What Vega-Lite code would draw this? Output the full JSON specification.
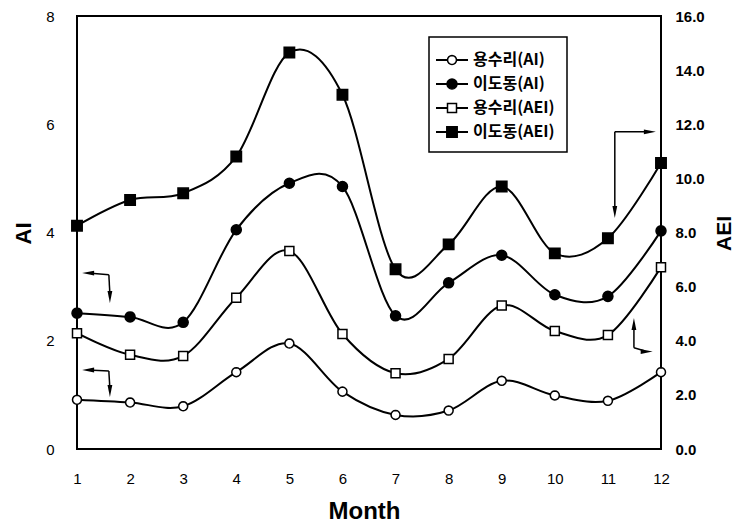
{
  "$schema": "https://vega.github.io/schema/vega-lite/v6.json",
  "width": 584,
  "height": 433,
  "autosize": {"type": "none"},
  "padding": {"left": 77, "top": 16, "right": 75, "bottom": 75},
  "background": "white",
  "datasets": {
    "series": [
      {"month": 1, "series": "용수리(AI)", "index": "AI", "value": 0.91},
      {"month": 2, "series": "용수리(AI)", "index": "AI", "value": 0.86},
      {"month": 3, "series": "용수리(AI)", "index": "AI", "value": 0.79},
      {"month": 4, "series": "용수리(AI)", "index": "AI", "value": 1.42},
      {"month": 5, "series": "용수리(AI)", "index": "AI", "value": 1.95},
      {"month": 6, "series": "용수리(AI)", "index": "AI", "value": 1.06},
      {"month": 7, "series": "용수리(AI)", "index": "AI", "value": 0.63},
      {"month": 8, "series": "용수리(AI)", "index": "AI", "value": 0.71},
      {"month": 9, "series": "용수리(AI)", "index": "AI", "value": 1.26},
      {"month": 10, "series": "용수리(AI)", "index": "AI", "value": 0.99},
      {"month": 11, "series": "용수리(AI)", "index": "AI", "value": 0.89},
      {"month": 12, "series": "용수리(AI)", "index": "AI", "value": 1.42},
      {"month": 1, "series": "이도동(AI)", "index": "AI", "value": 2.51},
      {"month": 2, "series": "이도동(AI)", "index": "AI", "value": 2.44},
      {"month": 3, "series": "이도동(AI)", "index": "AI", "value": 2.34},
      {"month": 4, "series": "이도동(AI)", "index": "AI", "value": 4.05},
      {"month": 5, "series": "이도동(AI)", "index": "AI", "value": 4.91},
      {"month": 6, "series": "이도동(AI)", "index": "AI", "value": 4.85},
      {"month": 7, "series": "이도동(AI)", "index": "AI", "value": 2.46},
      {"month": 8, "series": "이도동(AI)", "index": "AI", "value": 3.07},
      {"month": 9, "series": "이도동(AI)", "index": "AI", "value": 3.58},
      {"month": 10, "series": "이도동(AI)", "index": "AI", "value": 2.85},
      {"month": 11, "series": "이도동(AI)", "index": "AI", "value": 2.82},
      {"month": 12, "series": "이도동(AI)", "index": "AI", "value": 4.03},
      {"month": 1, "series": "용수리(AEI)", "index": "AEI", "value": 4.28},
      {"month": 2, "series": "용수리(AEI)", "index": "AEI", "value": 3.48},
      {"month": 3, "series": "용수리(AEI)", "index": "AEI", "value": 3.44},
      {"month": 4, "series": "용수리(AEI)", "index": "AEI", "value": 5.59},
      {"month": 5, "series": "용수리(AEI)", "index": "AEI", "value": 7.32},
      {"month": 6, "series": "용수리(AEI)", "index": "AEI", "value": 4.25},
      {"month": 7, "series": "용수리(AEI)", "index": "AEI", "value": 2.80},
      {"month": 8, "series": "용수리(AEI)", "index": "AEI", "value": 3.33},
      {"month": 9, "series": "용수리(AEI)", "index": "AEI", "value": 5.30},
      {"month": 10, "series": "용수리(AEI)", "index": "AEI", "value": 4.36},
      {"month": 11, "series": "용수리(AEI)", "index": "AEI", "value": 4.21},
      {"month": 12, "series": "용수리(AEI)", "index": "AEI", "value": 6.72},
      {"month": 1, "series": "이도동(AEI)", "index": "AEI", "value": 8.25},
      {"month": 2, "series": "이도동(AEI)", "index": "AEI", "value": 9.20},
      {"month": 3, "series": "이도동(AEI)", "index": "AEI", "value": 9.45},
      {"month": 4, "series": "이도동(AEI)", "index": "AEI", "value": 10.81},
      {"month": 5, "series": "이도동(AEI)", "index": "AEI", "value": 14.65},
      {"month": 6, "series": "이도동(AEI)", "index": "AEI", "value": 13.09},
      {"month": 7, "series": "이도동(AEI)", "index": "AEI", "value": 6.64},
      {"month": 8, "series": "이도동(AEI)", "index": "AEI", "value": 7.56},
      {"month": 9, "series": "이도동(AEI)", "index": "AEI", "value": 9.70},
      {"month": 10, "series": "이도동(AEI)", "index": "AEI", "value": 7.23},
      {"month": 11, "series": "이도동(AEI)", "index": "AEI", "value": 7.79},
      {"month": 12, "series": "이도동(AEI)", "index": "AEI", "value": 10.57}
    ],
    "arrows": [
      {"x": 1.21, "y": 3.25, "x2": 1.60, "y2": 3.22},
      {"x": 1.60, "y": 3.22, "x2": 1.62, "y2": 2.85},
      {"x": 1.21, "y": 1.46, "x2": 1.60, "y2": 1.44},
      {"x": 1.60, "y": 1.44, "x2": 1.62, "y2": 1.10},
      {"x": 11.13, "y": 5.86, "x2": 11.76, "y2": 5.86},
      {"x": 11.13, "y": 5.86, "x2": 11.13, "y2": 4.42},
      {"x": 11.49, "y": 1.87, "x2": 11.49, "y2": 2.28},
      {"x": 11.49, "y": 1.87, "x2": 11.70, "y2": 1.81}
    ],
    "heads": [
      {"x": 1.21, "y": 3.25, "dir": "left"},
      {"x": 1.62, "y": 2.81, "dir": "down"},
      {"x": 1.21, "y": 1.46, "dir": "left"},
      {"x": 1.62, "y": 1.07, "dir": "down"},
      {"x": 11.79, "y": 5.86, "dir": "right"},
      {"x": 11.13, "y": 4.38, "dir": "down"},
      {"x": 11.49, "y": 2.31, "dir": "up"},
      {"x": 11.73, "y": 1.80, "dir": "right"}
    ]
  },
  "config": {
    "view": {"stroke": "black", "strokeWidth": 2},
    "axis": {
      "grid": false,
      "domain": false,
      "ticks": false,
      "labelFont": "Liberation Sans",
      "titleFont": "Liberation Sans",
      "labelColor": "black",
      "titleColor": "black",
      "labelFlush": false,
      "labelOverlap": false,
      "labelFontSize": 15
    },
    "legend": {
      "orient": "none",
      "legendX": 352,
      "legendY": 21,
      "padding": 12,
      "strokeWidth": 1.5,
      "symbolSize": 400,
      "rowPadding": 5,
      "labelOffset": 10,
      "labelFont": "Noto Sans CJK KR",
      "labelFontWeight": "bold",
      "labelFontSize": 16,
      "labelColor": "black"
    }
  },
  "layer": [
    {
      "layer": [
        {
          "data": {"name": "series"},
          "transform": [{"filter": "datum.index === 'AI'"}],
          "mark": {"type": "line", "interpolate": "cardinal", "strokeWidth": 2},
          "encoding": {
            "x": {
              "field": "month", "type": "quantitative",
              "scale": {"domain": [1, 12], "nice": false, "zero": false},
              "axis": {
                "values": [1, 2, 3, 4, 5, 6, 7, 8, 9, 10, 11, 12],
                "format": "d",
                "title": "Month",
                "labelPadding": 22,
                "titleFontSize": 24,
                "titleFontWeight": "bold",
                "titleBaseline": "alphabetic",
                "titleY": 69,
                "titleX": 287
              }
            },
            "y": {
              "field": "value", "type": "quantitative",
              "scale": {"domain": [0, 8], "nice": false},
              "axis": {
                "orient": "left",
                "values": [0, 2, 4, 6, 8],
                "format": "d",
                "title": "AI",
                "labelPadding": 23,
                "titleFontSize": 22,
                "titleFontWeight": "bold",
                "titleAngle": 270,
                "titleBaseline": "middle",
                "titleX": -54,
                "titleY": 217
              }
            },
            "stroke": {
              "field": "series", "type": "nominal",
              "scale": {"domain": ["용수리(AI)", "이도동(AI)", "용수리(AEI)", "이도동(AEI)", " "], "range": ["black", "black", "black", "black", "black"]},
              "legend": {
                "title": null,
                "values": ["용수리(AI)", "이도동(AI)", "용수리(AEI)", "이도동(AEI)"],
                "symbolType": "M-1.6,0H1.6",
                "symbolStrokeWidth": 2,
                "strokeColor": "black"
              }
            }
          }
        },
        {
          "data": {"name": "series"},
          "transform": [{"filter": "datum.index === 'AI'"}],
          "mark": {"type": "point", "filled": true, "stroke": "black", "strokeWidth": 1.5, "size": 400, "opacity": 1},
          "encoding": {
            "x": {"field": "month", "type": "quantitative"},
            "y": {"field": "value", "type": "quantitative"},
            "shape": {
              "field": "series", "type": "nominal",
              "scale": {
                "domain": ["용수리(AI)", "이도동(AI)", "용수리(AEI)", "이도동(AEI)"],
                "range": [
                  "M0.45,0L0.416,0.172L0.318,0.318L0.172,0.416L0,0.45L-0.172,0.416L-0.318,0.318L-0.416,0.172L-0.45,0L-0.416,-0.172L-0.318,-0.318L-0.172,-0.416L0,-0.45L0.172,-0.416L0.318,-0.318L0.416,-0.172Z",
                  "M0.5,0L0.462,0.191L0.354,0.354L0.191,0.462L0,0.5L-0.191,0.462L-0.354,0.354L-0.462,0.191L-0.5,0L-0.462,-0.191L-0.354,-0.354L-0.191,-0.462L0,-0.5L0.191,-0.462L0.354,-0.354L0.462,-0.191Z",
                  "M-0.45,-0.45H0.45V0.45H-0.45Z",
                  "M-0.52,-0.52H0.52V0.52H-0.52Z"
                ]
              },
              "legend": {"title": null, "labelOpacity": 0}
            },
            "fill": {
              "field": "series", "type": "nominal",
              "scale": {"domain": ["용수리(AI)", "이도동(AI)", "용수리(AEI)", "이도동(AEI)"], "range": ["white", "black", "white", "black"]},
              "legend": null
            }
          }
        },
        {
          "data": {"name": "arrows"},
          "mark": {"type": "rule", "color": "black", "strokeWidth": 1.5},
          "encoding": {
            "x": {"field": "x", "type": "quantitative"},
            "y": {"field": "y", "type": "quantitative"},
            "x2": {"field": "x2"},
            "y2": {"field": "y2"}
          }
        },
        {
          "data": {"name": "heads"},
          "transform": [{"filter": "datum.dir === 'left'"}],
          "mark": {"type": "point", "filled": true, "color": "black", "opacity": 1, "size": 144, "shape": "M-1,0L1,-0.4L1,0.4Z"},
          "encoding": {"x": {"field": "x", "type": "quantitative"}, "y": {"field": "y", "type": "quantitative"}}
        },
        {
          "data": {"name": "heads"},
          "transform": [{"filter": "datum.dir === 'right'"}],
          "mark": {"type": "point", "filled": true, "color": "black", "opacity": 1, "size": 144, "shape": "M1,0L-1,-0.4L-1,0.4Z"},
          "encoding": {"x": {"field": "x", "type": "quantitative"}, "y": {"field": "y", "type": "quantitative"}}
        },
        {
          "data": {"name": "heads"},
          "transform": [{"filter": "datum.dir === 'down'"}],
          "mark": {"type": "point", "filled": true, "color": "black", "opacity": 1, "size": 144, "shape": "M0,1L-0.4,-1L0.4,-1Z"},
          "encoding": {"x": {"field": "x", "type": "quantitative"}, "y": {"field": "y", "type": "quantitative"}}
        },
        {
          "data": {"name": "heads"},
          "transform": [{"filter": "datum.dir === 'up'"}],
          "mark": {"type": "point", "filled": true, "color": "black", "opacity": 1, "size": 144, "shape": "M0,-1L-0.4,1L0.4,1Z"},
          "encoding": {"x": {"field": "x", "type": "quantitative"}, "y": {"field": "y", "type": "quantitative"}}
        }
      ]
    },
    {
      "layer": [
        {
          "data": {"name": "series"},
          "transform": [{"filter": "datum.index === 'AEI'"}],
          "mark": {"type": "line", "interpolate": "cardinal", "strokeWidth": 2},
          "encoding": {
            "x": {"field": "month", "type": "quantitative"},
            "y": {
              "field": "value", "type": "quantitative",
              "scale": {"domain": [0, 16], "nice": false},
              "axis": {
                "orient": "right",
                "values": [0, 2, 4, 6, 8, 10, 12, 14, 16],
                "format": ".1f",
                "title": "AEI",
                "labelPadding": 14,
                "labelFontWeight": "bold",
                "titleFontSize": 21,
                "titleFontWeight": "bold",
                "titleAngle": 270,
                "titleBaseline": "middle",
                "titleX": 63,
                "titleY": 217
              }
            },
            "stroke": {"field": "series", "type": "nominal"}
          }
        },
        {
          "data": {"name": "series"},
          "transform": [{"filter": "datum.index === 'AEI'"}],
          "mark": {"type": "point", "filled": true, "stroke": "black", "strokeWidth": 1.5, "size": 400, "opacity": 1},
          "encoding": {
            "x": {"field": "month", "type": "quantitative"},
            "y": {"field": "value", "type": "quantitative"},
            "shape": {"field": "series", "type": "nominal"},
            "fill": {"field": "series", "type": "nominal", "legend": null}
          }
        }
      ]
    }
  ],
  "resolve": {"scale": {"y": "independent"}}
}
